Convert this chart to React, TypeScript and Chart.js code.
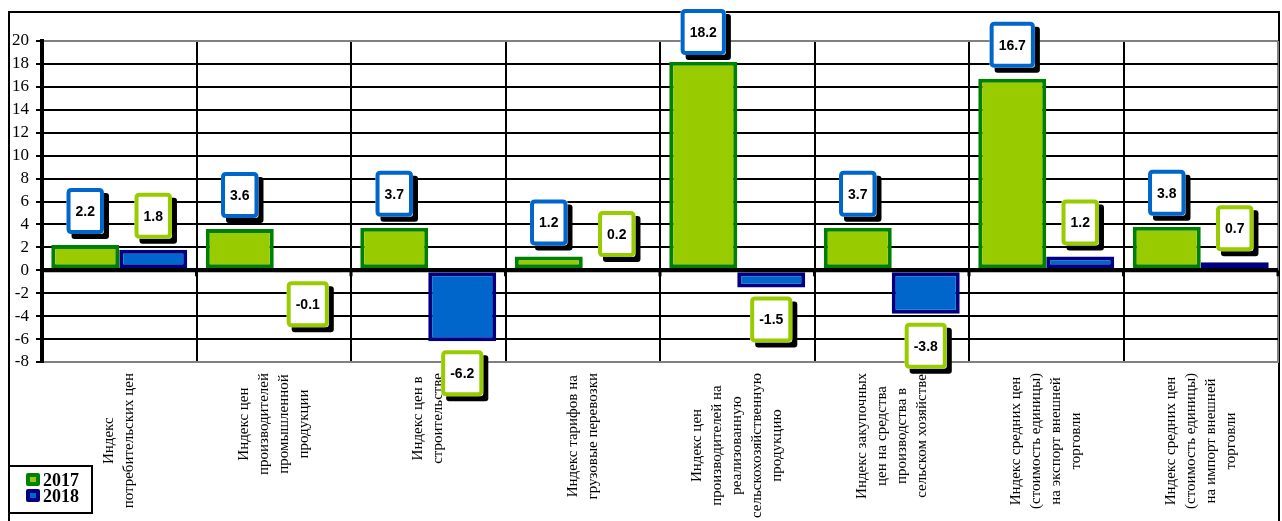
import React, { useEffect, useRef } from "react";
import { Chart, registerables } from "chart.js";

Chart.register(...registerables);

const categories: string[][] = [
  ["Индекс", "потребительских цен"],
  ["Индекс цен", "производителей", "промышленной", "продукции"],
  ["Индекс цен в", "строительстве"],
  ["Индекс тарифов на", "грузовые перевозки"],
  ["Индекс цен", "производителей на", "реализованную", "сельскохозяйственную", "продукцию"],
  ["Индекс закупочных", "цен на средства", "производства в", "сельском хозяйстве"],
  ["Индекс средних цен", "(стоимость единицы)", "на экспорт внешней", "торговли"],
  ["Индекс средних цен", "(стоимость единицы)", "на импорт внешней", "торговли"],
];

const seriesNames = ["2017", "2018"];
const values2017 = [2.2, 3.6, 3.7, 1.2, 18.2, 3.7, 16.7, 3.8];
const values2018 = [1.8, -0.1, -6.2, 0.2, -1.5, -3.8, 1.2, 0.7];

const yMin = -8;
const yMax = 20;
const yStep = 2;

const GREEN = "#99CC00";
const DARK_GREEN = "#008000";
const BLUE = "#0066CC";
const NAVY = "#000080";
const labelBorderColors = [BLUE, GREEN];
const legendOuter = [DARK_GREEN, NAVY];
const legendInner = [GREEN, BLUE];

function roundRectPath(ctx: CanvasRenderingContext2D, x: number, y: number, w: number, h: number, r: number) {
  ctx.beginPath();
  ctx.moveTo(x + r, y);
  ctx.lineTo(x + w - r, y);
  ctx.quadraticCurveTo(x + w, y, x + w, y + r);
  ctx.lineTo(x + w, y + h - r);
  ctx.quadraticCurveTo(x + w, y + h, x + w - r, y + h);
  ctx.lineTo(x + r, y + h);
  ctx.quadraticCurveTo(x, y + h, x, y + h - r);
  ctx.lineTo(x, y + r);
  ctx.quadraticCurveTo(x, y, x + r, y);
  ctx.closePath();
}

const framePlugin = {
  id: "frame",
  beforeDraw(chart: any) {
    const ctx: CanvasRenderingContext2D = chart.ctx;
    ctx.save();
    ctx.fillStyle = "#ffffff";
    ctx.fillRect(0, 0, chart.width, chart.height);
    ctx.strokeStyle = "#000000";
    ctx.lineWidth = 2;
    ctx.strokeRect(9, 12, 1270, 600);
    ctx.restore();
  },
};

const overlayPlugin = {
  id: "overlay",
  afterDraw(chart: any) {
    const ctx: CanvasRenderingContext2D = chart.ctx;
    const area = chart.chartArea;
    const xScale = chart.scales.x;
    const yScale = chart.scales.y;
    const y0 = yScale.getPixelForValue(0);

    ctx.save();
    // zero (category) axis line over the bars
    ctx.strokeStyle = "#000000";
    ctx.lineWidth = 4;
    ctx.beginPath();
    ctx.moveTo(area.left, y0);
    ctx.lineTo(area.right, y0);
    ctx.stroke();
    // small tick marks at category boundaries
    ctx.lineWidth = 3;
    for (let i = 0; i <= categories.length; i++) {
      const bx = area.left + ((area.right - area.left) * i) / categories.length;
      ctx.beginPath();
      ctx.moveTo(bx, y0);
      ctx.lineTo(bx, y0 + 6);
      ctx.stroke();
    }

    // category labels (rotated, centred lines)
    ctx.fillStyle = "#000000";
    ctx.font = "15px 'Liberation Serif', serif";
    ctx.textAlign = "center";
    ctx.textBaseline = "middle";
    const lineH = 20;
    categories.forEach((lines, i) => {
      const cx = xScale.getPixelForValue(i);
      const maxW = Math.max(...lines.map((l) => ctx.measureText(l).width));
      const top = area.bottom + 11;
      const cy = top + maxW / 2;
      lines.forEach((line, j) => {
        const lx = cx + (j - (lines.length - 1) / 2) * lineH;
        ctx.save();
        ctx.translate(lx, cy);
        ctx.rotate(-Math.PI / 2);
        ctx.fillText(line, 0, 0);
        ctx.restore();
      });
    });

    // data label boxes
    ctx.font = "bold 14px 'Liberation Sans', Arial, sans-serif";
    chart.data.datasets.forEach((ds: any, di: number) => {
      const meta = chart.getDatasetMeta(di);
      meta.data.forEach((el: any, i: number) => {
        const v = ds.data[i] as number;
        const text = v.toFixed(1);
        const tw = ctx.measureText(text).width;
        const w = tw + 18;
        const h = 46;
        const left = el.x - w / 2;
        let top: number;
        if (v >= 0) {
          top = Math.min(el.y, el.base) - 11 - h;
          if (top < 9) top = 9;
        } else {
          top = Math.max(el.y, el.base) + 9;
        }
        // shadow
        ctx.fillStyle = "#000000";
        roundRectPath(ctx, left + 5, top + 5, w, h, 3);
        ctx.fill();
        // box
        ctx.fillStyle = "#ffffff";
        roundRectPath(ctx, left, top, w, h, 3);
        ctx.fill();
        ctx.strokeStyle = labelBorderColors[di];
        ctx.lineWidth = 4;
        roundRectPath(ctx, left + 2, top + 2, w - 4, h - 4, 3);
        ctx.stroke();
        ctx.fillStyle = "#000000";
        ctx.textAlign = "center";
        ctx.textBaseline = "middle";
        ctx.fillText(text, el.x, top + h / 2 + 1);
      });
    });

    // legend
    ctx.fillStyle = "#ffffff";
    ctx.fillRect(9, 466, 83, 47);
    ctx.strokeStyle = "#000000";
    ctx.lineWidth = 2;
    ctx.strokeRect(9, 466, 83, 47);
    ctx.font = "bold 18px 'Liberation Serif', serif";
    ctx.textAlign = "left";
    ctx.textBaseline = "alphabetic";
    chart.data.datasets.forEach((ds: any, di: number) => {
      const my = 473 + di * 16;
      ctx.fillStyle = legendOuter[di];
      roundRectPath(ctx, 26, my, 14, 13, 2);
      ctx.fill();
      ctx.fillStyle = legendInner[di];
      ctx.fillRect(30, my + 4, 6, 5);
      ctx.fillStyle = "#000000";
      ctx.fillText(ds.label, 43, 486 + di * 16);
    });
    ctx.restore();
  },
};

export default function App() {
  const canvasRef = useRef<HTMLCanvasElement | null>(null);

  useEffect(() => {
    if (!canvasRef.current) return;
    const chart = new Chart(canvasRef.current, {
      type: "bar",
      data: {
        labels: categories.map((c) => c.join(" ")),
        datasets: [
          {
            label: seriesNames[0],
            data: values2017,
            backgroundColor: GREEN,
            borderColor: DARK_GREEN,
            borderWidth: 4,
            borderSkipped: false,
            categoryPercentage: 0.88,
            barPercentage: 1.0,
          },
          {
            label: seriesNames[1],
            data: values2018,
            backgroundColor: BLUE,
            borderColor: NAVY,
            borderWidth: 4,
            borderSkipped: false,
            categoryPercentage: 0.88,
            barPercentage: 1.0,
          },
        ],
      },
      options: {
        animation: false,
        responsive: true,
        maintainAspectRatio: false,
        layout: { padding: { left: 0, top: 41, right: 4, bottom: 159 } },
        plugins: {
          legend: { display: false },
          tooltip: { enabled: false },
        },
        scales: {
          x: {
            type: "category",
            ticks: { display: false },
            grid: {
              offset: true,
              drawTicks: false,
              color: (ctx: any) => (ctx.type === "tick" ? "#000000" : "#808080"),
              lineWidth: 2,
            },
            border: { display: true, color: "#808080", width: 2 },
            afterFit: (scale: any) => {
              scale.height = 0;
            },
          },
          y: {
            min: yMin,
            max: yMax,
            ticks: {
              stepSize: yStep,
              autoSkip: false,
              color: "#000000",
              padding: 7,
              font: { family: "Liberation Serif", size: 17 },
            },
            grid: {
              color: (ctx: any) =>
                ctx.tick && (ctx.tick.value === yMax || ctx.tick.value === yMin) ? "#808080" : "#000000",
              lineWidth: (ctx: any) => (ctx.tick && ctx.tick.value === 0 ? 4 : 2),
              tickColor: "#000000",
              tickWidth: 2,
              tickLength: 6,
              drawTicks: true,
            },
            border: { display: true, color: "#000000", width: 4 },
            afterFit: (scale: any) => {
              scale.width = 42;
            },
          },
        },
      },
      plugins: [framePlugin, overlayPlugin],
    });
    return () => chart.destroy();
  }, []);

  return (
    <div style={{ position: "absolute", left: 0, top: 0, width: 1282, height: 521, overflow: "hidden" }}>
      <canvas ref={canvasRef} />
    </div>
  );
}
